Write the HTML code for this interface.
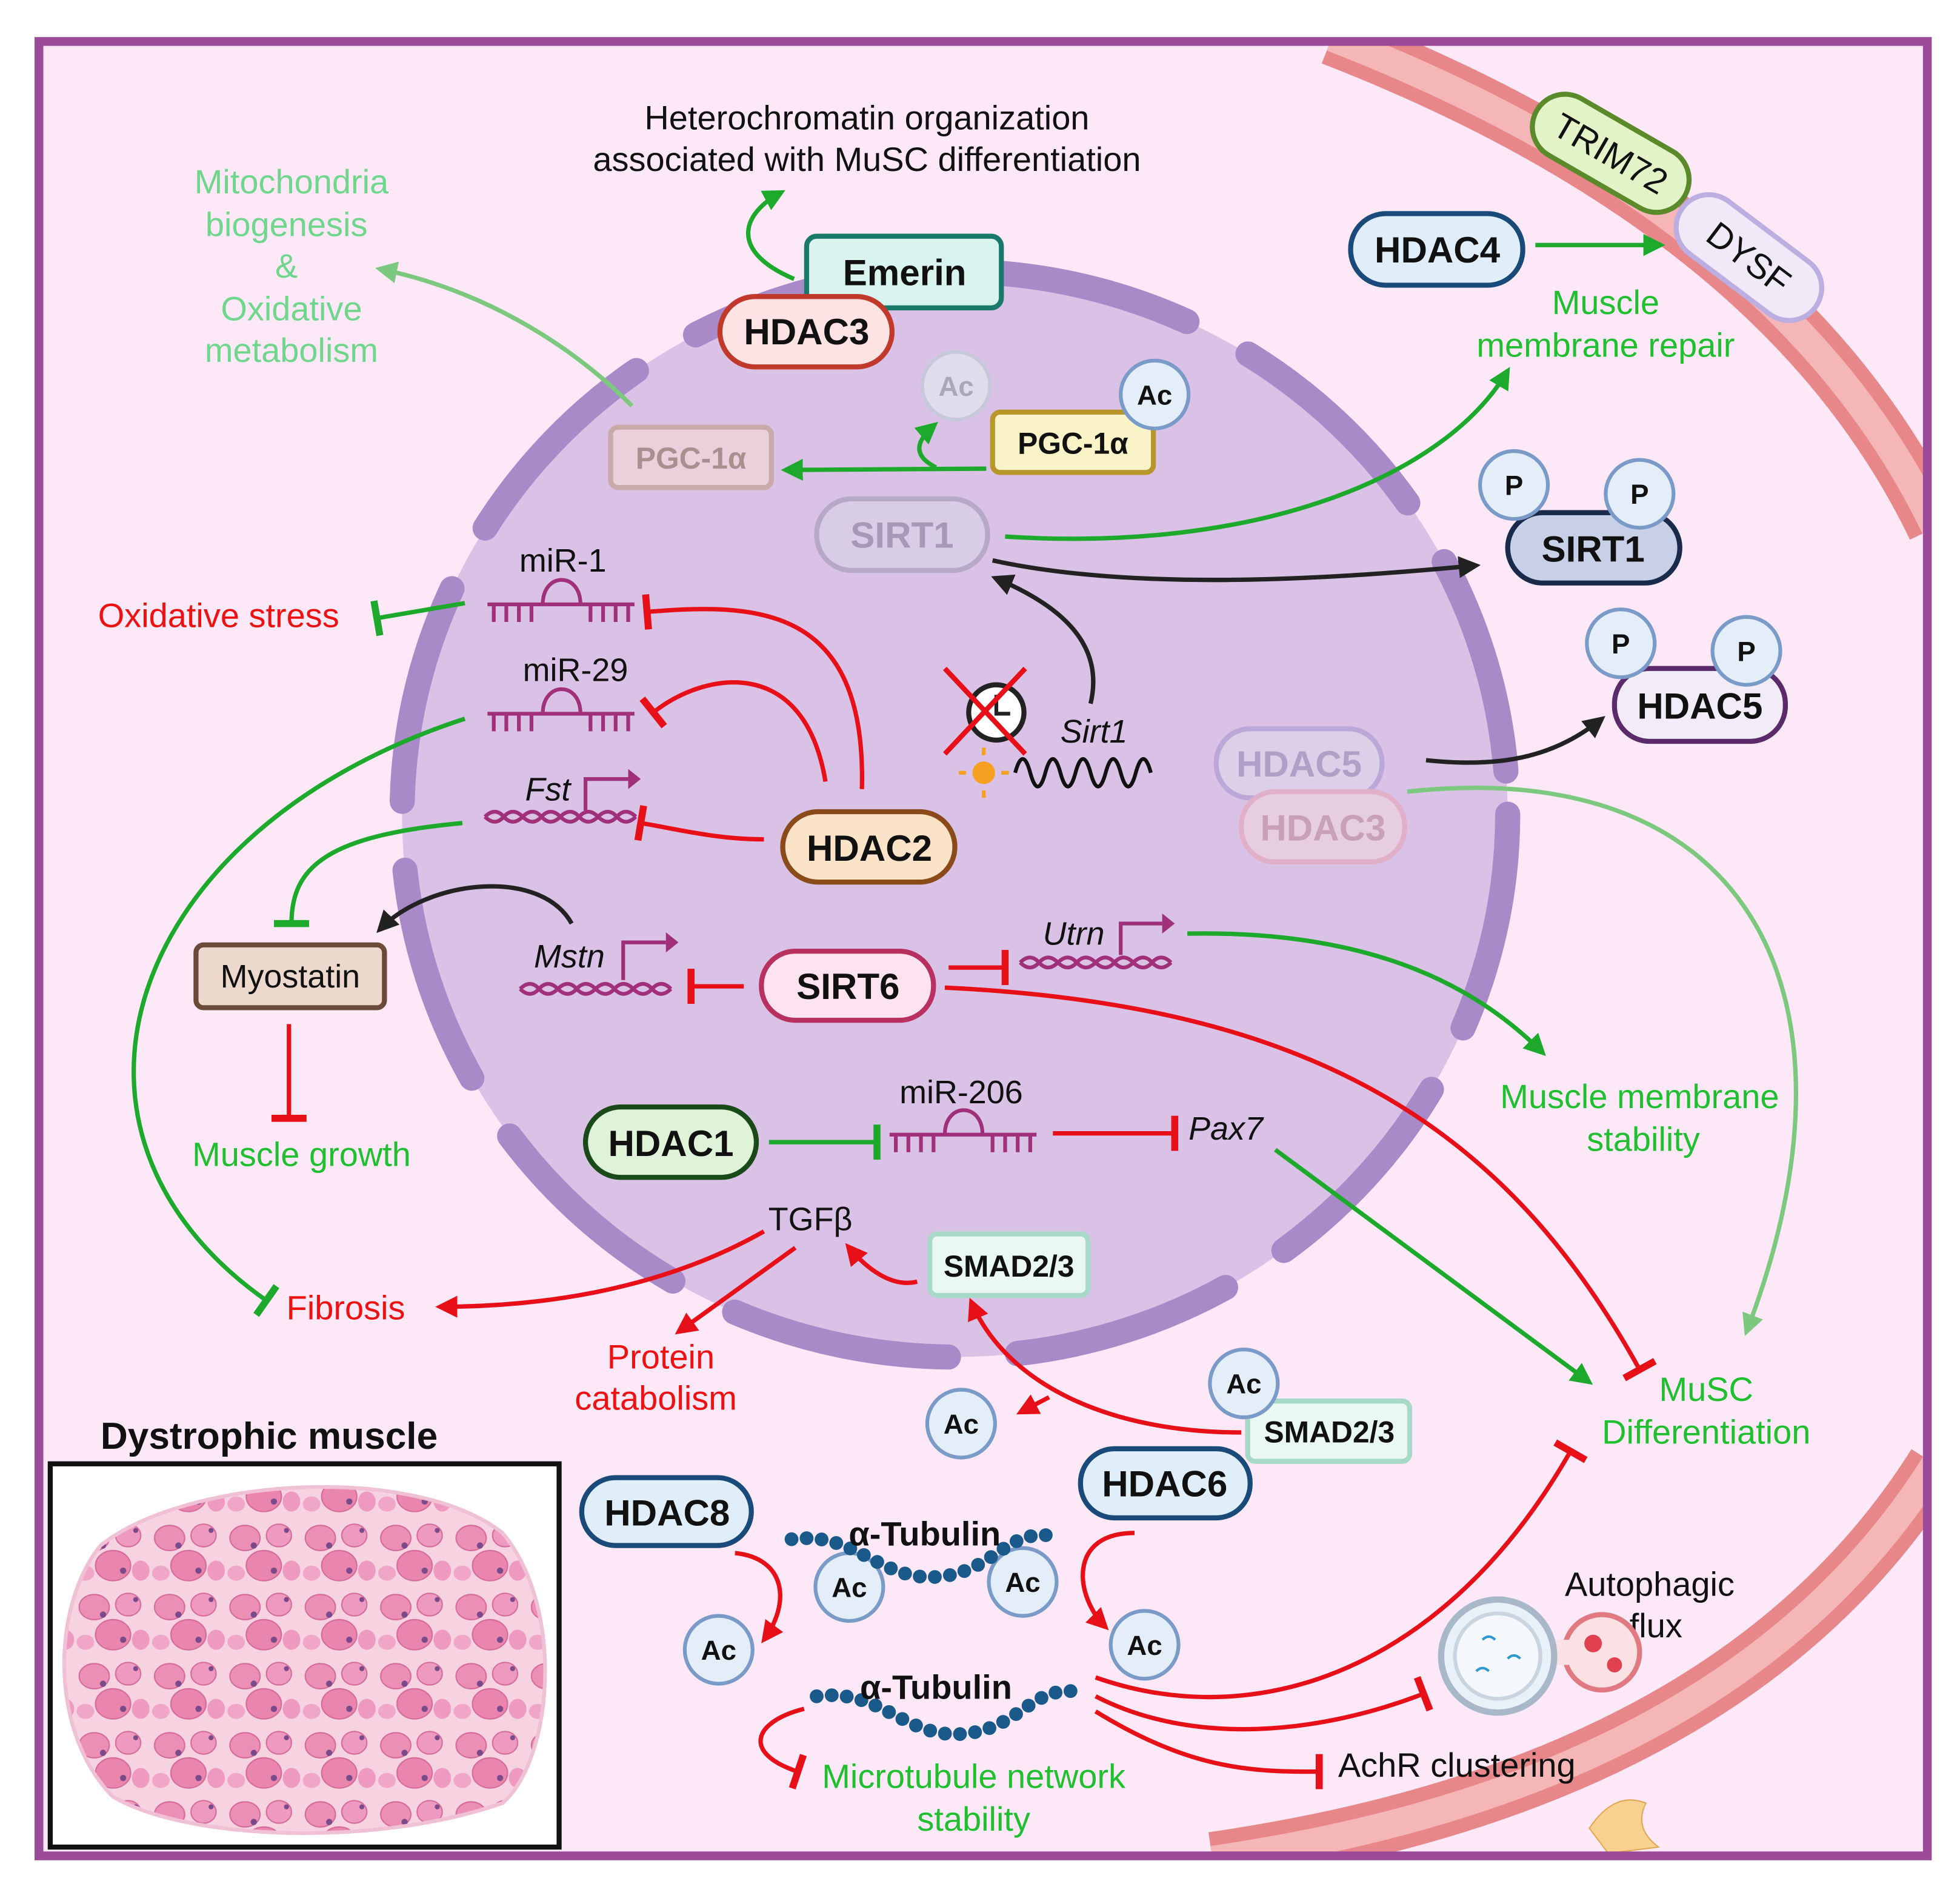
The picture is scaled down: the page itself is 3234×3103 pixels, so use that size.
<!DOCTYPE html>
<html><head><meta charset="utf-8"><style>
html,body{margin:0;padding:0;background:#fff}
svg{display:block}
text{font-family:"Liberation Sans",sans-serif}
</style></head><body>
<svg width="3234" height="3103" viewBox="0 0 1560 1497" preserveAspectRatio="none" xmlns="http://www.w3.org/2000/svg">
<defs>
<clipPath id="frm"><rect x="34" y="36" width="1497" height="1438"/></clipPath>
<marker id="aG" viewBox="0 0 10 10" refX="8" refY="5" markerWidth="5" markerHeight="5" orient="auto"><path d="M0,0L10,5L0,10z" fill="#1daa2c"/></marker>
<marker id="aL" viewBox="0 0 10 10" refX="8" refY="5" markerWidth="5" markerHeight="5" orient="auto"><path d="M0,0L10,5L0,10z" fill="#7cc87e"/></marker>
<marker id="aR" viewBox="0 0 10 10" refX="8" refY="5" markerWidth="5" markerHeight="5" orient="auto"><path d="M0,0L10,5L0,10z" fill="#e81018"/></marker>
<marker id="aK" viewBox="0 0 10 10" refX="8" refY="5" markerWidth="5" markerHeight="5" orient="auto"><path d="M0,0L10,5L0,10z" fill="#222"/></marker>
<marker id="bR" viewBox="0 0 4 20" refX="2" refY="10" markerWidth="2" markerHeight="8" orient="auto"><rect x="0" y="0" width="4" height="20" fill="#e81018"/></marker>
<marker id="bG" viewBox="0 0 4 20" refX="2" refY="10" markerWidth="2" markerHeight="8" orient="auto"><rect x="0" y="0" width="4" height="20" fill="#1daa2c"/></marker>
<pattern id="fib" width="60" height="55" patternUnits="userSpaceOnUse">
<rect width="60" height="55" fill="#f7d3e2"/>
<ellipse cx="15" cy="14" rx="12" ry="10" fill="#ec8fb5" stroke="#d46a98"/>
<ellipse cx="42" cy="12" rx="10" ry="9" fill="#ee9ac0" stroke="#d46a98"/>
<ellipse cx="30" cy="36" rx="14" ry="12" fill="#ea86ae" stroke="#d46a98"/>
<ellipse cx="8" cy="42" rx="7" ry="6" fill="#f0a6c6"/>
<ellipse cx="52" cy="40" rx="7" ry="8" fill="#ee9ac0"/>
<circle cx="22" cy="20" r="2.5" fill="#7a4a8a"/><circle cx="38" cy="40" r="2.5" fill="#7a4a8a"/><circle cx="48" cy="8" r="2" fill="#7a4a8a"/>
</pattern>
</defs>

<rect x="0" y="0" width="1560" height="1497" fill="#fff"/>
<rect x="31" y="33" width="1503" height="1444" fill="#fde8f8"/>

<!-- membrane band -->
<g clip-path="url(#frm)">
<path d="M1060,30 Q1420,170 1540,420" fill="none" stroke="#e8878a" stroke-width="44"/>
<path d="M1060,30 Q1420,170 1540,420" fill="none" stroke="#f4b6b6" stroke-width="22"/>
<path d="M1540,1165 Q1380,1420 965,1480" fill="none" stroke="#e8878a" stroke-width="44"/>
<path d="M1540,1165 Q1380,1420 965,1480" fill="none" stroke="#f4b6b6" stroke-width="22"/>
<path d="M1265,1455 q20,-30 45,-20 q-10,20 10,35 l-40,5z" fill="#f8d090" stroke="#e0a850"/>
</g>
<rect x="31" y="33" width="1503" height="1444" fill="none" stroke="#9b4a9a" stroke-width="7"/>

<!-- nucleus -->
<ellipse cx="760" cy="648" rx="440" ry="432" fill="#d9c2e5"/>
<ellipse cx="760" cy="648" rx="440" ry="432" fill="none" stroke="#a98ac8" stroke-width="20" stroke-linecap="round" stroke-dasharray="175 55"/>

<!-- top texts -->
<text x="690" y="103" font-size="27" text-anchor="middle" fill="#111">Heterochromatin organization</text>
<text x="690" y="136" font-size="27" text-anchor="middle" fill="#111">associated with MuSC differentiation</text>
<g font-size="27" fill="#6fd68c" text-anchor="middle">
<text x="232" y="154">Mitochondria</text><text x="228" y="188">biogenesis</text><text x="228" y="221">&amp;</text><text x="232" y="255">Oxidative</text><text x="232" y="288">metabolism</text></g>
<text x="1278" y="250" font-size="27" text-anchor="middle" fill="#1fbf2f">Muscle</text>
<text x="1278" y="284" font-size="27" text-anchor="middle" fill="#1fbf2f">membrane repair</text>

<!-- connectors -->
<g fill="none" stroke-width="3.5">
<path d="M632,222 C580,200 590,170 622,153" stroke="#1daa2c" marker-end="url(#aG)"/>
<path d="M503,323 C450,270 380,230 302,214" stroke="#7cc87e" marker-end="url(#aL)"/>
<path d="M785,373 L625,374" stroke="#1daa2c" marker-end="url(#aG)"/>
<path d="M745,372 C725,362 730,350 744,338" stroke="#1daa2c" marker-end="url(#aG)"/>
<path d="M1222,195 L1322,195" stroke="#1daa2c" marker-end="url(#aG)"/>
<path d="M800,427 C1000,440 1150,380 1200,295" stroke="#1daa2c" marker-end="url(#aG)"/>
<path d="M790,446 C900,470 1050,462 1175,450" stroke="#222" marker-end="url(#aK)"/>
<path d="M868,560 C880,510 840,480 792,460" stroke="#222" marker-end="url(#aK)"/>
<path d="M1135,605 C1200,612 1240,600 1275,572" stroke="#222" marker-end="url(#aK)"/>
<path d="M1120,630 C1400,600 1490,800 1390,1060" stroke="#7cc87e" marker-end="url(#aL)"/>
<path d="M370,480 L300,492" stroke="#1daa2c" marker-end="url(#bG)"/>
<path d="M686,628 C690,480 600,480 515,487" stroke="#e81018" marker-end="url(#bR)"/>
<path d="M657,622 C640,520 560,535 520,567" stroke="#e81018" marker-end="url(#bR)"/>
<path d="M608,668 C570,668 540,660 510,655" stroke="#e81018" marker-end="url(#bR)"/>
<path d="M370,572 C100,660 20,900 212,1035" stroke="#1daa2c" marker-end="url(#bG)"/>
<path d="M368,655 C260,665 232,690 232,735" stroke="#1daa2c" marker-end="url(#bG)"/>
<path d="M455,735 C430,690 340,700 302,740" stroke="#222" marker-end="url(#aK)"/>
<path d="M230,815 L230,890" stroke="#e81018" marker-end="url(#bR)"/>
<path d="M592,785 L550,785" stroke="#e81018" marker-end="url(#bR)"/>
<path d="M755,770 L800,770" stroke="#e81018" marker-end="url(#bR)"/>
<path d="M945,743 C1100,740 1180,790 1228,838" stroke="#1daa2c" marker-end="url(#aG)"/>
<path d="M752,786 C1050,800 1200,900 1305,1090" stroke="#e81018" marker-end="url(#bR)"/>
<path d="M612,909 L698,909" stroke="#1daa2c" marker-end="url(#bG)"/>
<path d="M838,902 L935,902" stroke="#e81018" marker-end="url(#bR)"/>
<path d="M1015,915 L1265,1100" stroke="#1daa2c" marker-end="url(#aG)"/>
<path d="M730,1020 C710,1025 690,1010 675,992" stroke="#e81018" marker-end="url(#aR)"/>
<path d="M608,980 C520,1030 420,1040 350,1040" stroke="#e81018" marker-end="url(#aR)"/>
<path d="M633,993 L540,1060" stroke="#e81018" marker-end="url(#aR)"/>
<path d="M988,1140 C880,1140 800,1100 773,1036" stroke="#e81018" marker-end="url(#aR)"/>
<path d="M835,1112 L812,1124" stroke="#e81018" marker-end="url(#aR)"/>
<path d="M585,1236 C625,1240 630,1275 608,1305" stroke="#e81018" marker-end="url(#aR)"/>
<path d="M903,1220 C850,1220 855,1270 880,1295" stroke="#e81018" marker-end="url(#aR)"/>
<path d="M872,1335 C1000,1380 1150,1330 1250,1155" stroke="#e81018" marker-end="url(#bR)"/>
<path d="M872,1350 C950,1390 1050,1380 1133,1348" stroke="#e81018" marker-end="url(#bR)"/>
<path d="M872,1362 C950,1410 1000,1410 1050,1410" stroke="#e81018" marker-end="url(#bR)"/>
<path d="M640,1360 C600,1370 590,1395 635,1410" stroke="#e81018" marker-end="url(#bR)"/>
</g>

<!-- rotated pills -->
<g transform="translate(1282,122) rotate(30)"><rect x="-68" y="-26" width="136" height="52" rx="26" fill="#e2f3c8" stroke="#5b8a2a" stroke-width="4"/><text x="0" y="10" font-size="28" text-anchor="middle" fill="#111">TRIM72</text></g>
<g transform="translate(1392,205) rotate(37)"><rect x="-66" y="-26" width="132" height="52" rx="26" fill="#efe9f8" stroke="#bcaee0" stroke-width="4"/><text x="0" y="10" font-size="28" text-anchor="middle" fill="#111">DYSF</text></g>

<!-- pills -->
<g stroke-width="4" font-weight="bold" text-anchor="middle">
<rect x="642" y="188" width="155" height="57" rx="8" fill="#d9f3ef" stroke="#1a7a6a"/><text x="720" y="227" font-size="29" fill="#111" stroke="none">Emerin</text>
<rect x="573" y="236" width="137" height="56" rx="28" fill="#fde3e3" stroke="#c0392b"/><text x="642" y="274" font-size="29" fill="#111" stroke="none">HDAC3</text>
<rect x="1075" y="170" width="137" height="57" rx="28" fill="#dfeef8" stroke="#1a4a7a"/><text x="1144" y="209" font-size="29" fill="#111" stroke="none">HDAC4</text>
<rect x="486" y="340" width="128" height="48" rx="6" fill="#e9d0da" stroke="#c9aaa8"/><text x="550" y="373" font-size="24" fill="#a89090" stroke="none">PGC-1α</text>
<rect x="790" y="328" width="128" height="48" rx="6" fill="#fbf3c8" stroke="#b8962a"/><text x="854" y="361" font-size="24" fill="#111" stroke="none">PGC-1α</text>
<rect x="650" y="397" width="136" height="57" rx="28" fill="#d8cde6" stroke="#b8a8c8"/><text x="718" y="436" font-size="29" fill="#a898b8" stroke="none">SIRT1</text>
<rect x="1200" y="408" width="137" height="56" rx="28" fill="#c8d0e8" stroke="#1a2a4a"/><text x="1268" y="447" font-size="29" fill="#111" stroke="none">SIRT1</text>
<rect x="1285" y="532" width="136" height="58" rx="28" fill="#f1ecf8" stroke="#5a2a6a"/><text x="1353" y="572" font-size="29" fill="#111" stroke="none">HDAC5</text>
<rect x="968" y="580" width="132" height="55" rx="27" fill="#dccfe8" stroke="#bca8d8"/><text x="1034" y="618" font-size="29" fill="#b0a0c8" stroke="none">HDAC5</text>
<rect x="988" y="630" width="130" height="56" rx="27" fill="#e6cde0" stroke="#e0b0c8"/><text x="1053" y="669" font-size="29" fill="#c8a0b8" stroke="none">HDAC3</text>
<rect x="623" y="646" width="137" height="56" rx="28" fill="#fbe3c8" stroke="#8a4a1a"/><text x="692" y="685" font-size="29" fill="#111" stroke="none">HDAC2</text>
<rect x="606" y="757" width="137" height="55" rx="27" fill="#fde3ef" stroke="#b83060"/><text x="675" y="795" font-size="29" fill="#111" stroke="none">SIRT6</text>
<rect x="466" y="881" width="136" height="56" rx="28" fill="#dff3d8" stroke="#1a4a1a"/><text x="534" y="920" font-size="29" fill="#111" stroke="none">HDAC1</text>
<rect x="740" y="982" width="126" height="49" rx="6" fill="#e9f8f2" stroke="#a8d8c8"/><text x="803" y="1016" font-size="24" fill="#111" stroke="none">SMAD2/3</text>
<rect x="993" y="1115" width="129" height="48" rx="6" fill="#e9f8f2" stroke="#a8d8c8"/><text x="1058" y="1148" font-size="24" fill="#111" stroke="none">SMAD2/3</text>
<rect x="156" y="752" width="150" height="50" rx="6" fill="#ecd8cc" stroke="#6a4a3a"/><text x="231" y="786" font-size="26" font-weight="normal" fill="#111" stroke="none">Myostatin</text>
<rect x="463" y="1176" width="135" height="54" rx="27" fill="#dfeef8" stroke="#1a4a7a"/><text x="531" y="1214" font-size="29" fill="#111" stroke="none">HDAC8</text>
<rect x="860" y="1153" width="135" height="55" rx="27" fill="#dfeef8" stroke="#1a4a7a"/><text x="927" y="1191" font-size="29" fill="#111" stroke="none">HDAC6</text>
</g>

<!-- Ac / P circles -->
<g stroke-width="3" font-weight="bold" font-size="22" text-anchor="middle">
<circle cx="761" cy="307" r="27" fill="#e0dcec" stroke="#c8c8dc"/><text x="761" y="315" fill="#a8a8b8">Ac</text>
<circle cx="919" cy="314" r="27" fill="#e4eef8" stroke="#7a9ac8"/><text x="919" y="322" fill="#111">Ac</text>
<circle cx="1205" cy="386" r="27" fill="#e4eef8" stroke="#7a9ac8"/><text x="1205" y="394" fill="#111">P</text>
<circle cx="1305" cy="393" r="27" fill="#e4eef8" stroke="#7a9ac8"/><text x="1305" y="401" fill="#111">P</text>
<circle cx="1290" cy="512" r="27" fill="#e4eef8" stroke="#7a9ac8"/><text x="1290" y="520" fill="#111">P</text>
<circle cx="1390" cy="518" r="27" fill="#e4eef8" stroke="#7a9ac8"/><text x="1390" y="526" fill="#111">P</text>
<circle cx="990" cy="1101" r="27" fill="#e4eef8" stroke="#7a9ac8"/><text x="990" y="1109" fill="#111">Ac</text>
<circle cx="765" cy="1133" r="27" fill="#e4eef8" stroke="#7a9ac8"/><text x="765" y="1141" fill="#111">Ac</text>
<circle cx="676" cy="1263" r="27" fill="#e4eef8" stroke="#7a9ac8"/><text x="676" y="1271" fill="#111">Ac</text>
<circle cx="814" cy="1259" r="27" fill="#e4eef8" stroke="#7a9ac8"/><text x="814" y="1267" fill="#111">Ac</text>
<circle cx="572" cy="1313" r="27" fill="#e4eef8" stroke="#7a9ac8"/><text x="572" y="1321" fill="#111">Ac</text>
<circle cx="911" cy="1309" r="27" fill="#e4eef8" stroke="#7a9ac8"/><text x="911" y="1317" fill="#111">Ac</text>
</g>

<!-- miRNAs -->
<g fill="none" stroke="#a0307a" stroke-width="3">
<path d="M388,481 H505 M393,481 v14 M403,481 v14 M413,481 v14 M423,481 v14 M470,481 v14 M480,481 v14 M490,481 v14 M500,481 v14 M432,481 C432,455 462,455 462,481"/>
<path d="M388,568 H505 M393,568 v14 M403,568 v14 M413,568 v14 M423,568 v14 M470,568 v14 M480,568 v14 M490,568 v14 M500,568 v14 M432,568 C432,542 462,542 462,568"/>
<path d="M708,903 H825 M713,903 v14 M723,903 v14 M733,903 v14 M743,903 v14 M790,903 v14 M800,903 v14 M810,903 v14 M820,903 v14 M752,903 C752,877 782,877 782,903"/>
<path d="M386,650 q8,-8 15,0 t15,0 t15,0 t15,0 t15,0 t15,0 t15,0 t15,0 M386,650 q8,8 15,0 t15,0 t15,0 t15,0 t15,0 t15,0 t15,0 t15,0"/>
<path d="M466,645 V620 H500" />
<path d="M414,787 q8,-8 15,0 t15,0 t15,0 t15,0 t15,0 t15,0 t15,0 t15,0 M414,787 q8,8 15,0 t15,0 t15,0 t15,0 t15,0 t15,0 t15,0 t15,0"/>
<path d="M496,780 V750 H530"/>
<path d="M812,766 q8,-8 15,0 t15,0 t15,0 t15,0 t15,0 t15,0 t15,0 t15,0 M812,766 q8,8 15,0 t15,0 t15,0 t15,0 t15,0 t15,0 t15,0 t15,0"/>
<path d="M892,760 V735 H925"/>
</g>
<path d="M500,612 L510,620 L500,628z M530,742 L540,750 L530,758z M925,727 L935,735 L925,743z" fill="#a0307a"/>
<text x="448" y="455" font-size="26" text-anchor="middle" fill="#111">miR-1</text>
<text x="458" y="542" font-size="26" text-anchor="middle" fill="#111">miR-29</text>
<text x="765" y="878" font-size="26" text-anchor="middle" fill="#111">miR-206</text>
<g font-style="italic" font-size="26" fill="#111">
<text x="418" y="637">Fst</text><text x="425" y="770">Mstn</text><text x="830" y="752">Utrn</text><text x="946" y="907">Pax7</text><text x="844" y="591">Sirt1</text></g>

<!-- clock, sun, moon, wave -->
<circle cx="793" cy="567" r="22" fill="#fff" stroke="#222" stroke-width="4"/>
<path d="M793,553 V568 H804" stroke="#222" stroke-width="3" fill="none"/>
<path d="M752,532 L816,600 M816,532 L752,600" stroke="#e81018" stroke-width="4"/>
<circle cx="783" cy="615" r="9" fill="#f5a020"/>
<path d="M769,615h-6M797,615h6M783,601v-6M783,629v6" stroke="#f5a020" stroke-width="3"/>
<path d="M808,615 q6,-22 12,0 t12,0 t12,0 t12,0 t12,0 t12,0 t12,0 t12,0 t12,0" fill="none" stroke="#111" stroke-width="3"/>
<path d="M942,600 a15,15 0 1 0 8,30 a12,12 0 1 1 -8,-30z" fill="#f0d040"/>

<!-- other text -->
<text x="78" y="499" font-size="27" fill="#ee1111">Oxidative stress</text>
<text x="240" y="928" font-size="27" text-anchor="middle" fill="#1fbf2f">Muscle growth</text>
<text x="1305" y="882" font-size="27" text-anchor="middle" fill="#1fbf2f">Muscle membrane</text>
<text x="1308" y="916" font-size="27" text-anchor="middle" fill="#1fbf2f">stability</text>
<text x="645" y="979" font-size="26" text-anchor="middle" fill="#111">TGFβ</text>
<text x="228" y="1050" font-size="27" fill="#ee1111">Fibrosis</text>
<text x="526" y="1089" font-size="27" text-anchor="middle" fill="#ee1111">Protein</text>
<text x="522" y="1122" font-size="27" text-anchor="middle" fill="#ee1111">catabolism</text>
<text x="1358" y="1115" font-size="27" text-anchor="middle" fill="#1fbf2f">MuSC</text>
<text x="1358" y="1149" font-size="27" text-anchor="middle" fill="#1fbf2f">Differentiation</text>
<text x="1313" y="1270" font-size="27" text-anchor="middle" fill="#111">Autophagic</text>
<text x="1318" y="1303" font-size="27" text-anchor="middle" fill="#111">flux</text>
<text x="1065" y="1414" font-size="27" fill="#111">AchR clustering</text>
<text x="775" y="1423" font-size="27" text-anchor="middle" fill="#1fbf2f">Microtubule network</text>
<text x="775" y="1457" font-size="27" text-anchor="middle" fill="#1fbf2f">stability</text>

<!-- tubulin beads -->
<path d="M630,1225 C680,1218 700,1258 745,1255 C790,1252 800,1218 835,1222" fill="none" stroke="#1a5a8a" stroke-width="11" stroke-linecap="round" stroke-dasharray="0 12"/>
<path d="M650,1350 C700,1343 720,1383 765,1380 C810,1377 820,1343 855,1346" fill="none" stroke="#1a5a8a" stroke-width="11" stroke-linecap="round" stroke-dasharray="0 12"/>
<text x="736" y="1230" font-size="27" font-weight="bold" text-anchor="middle" fill="#111">α-Tubulin</text>
<text x="745" y="1352" font-size="27" font-weight="bold" text-anchor="middle" fill="#111">α-Tubulin</text>

<!-- autophagy icon -->
<circle cx="1275" cy="1315" r="30" fill="#fbe0e4" stroke="#e07a80" stroke-width="4"/>
<rect x="1220" y="1305" width="30" height="20" fill="#fbe0e4"/>
<circle cx="1268" cy="1308" r="7" fill="#e04050"/><circle cx="1285" cy="1325" r="6" fill="#e04050"/>
<circle cx="1192" cy="1318" r="45" fill="#e8f0f8" stroke="#a8b8c8" stroke-width="5"/>
<circle cx="1192" cy="1318" r="34" fill="#f4f8fc" stroke="#c8d4e0" stroke-width="3"/>
<path d="M1180,1305 q5,-5 10,0 M1200,1320 q5,-5 10,0 M1175,1330 q5,-5 10,0" stroke="#2a9ad0" stroke-width="2" fill="none"/>

<!-- dystrophic muscle -->
<text x="80" y="1153" font-size="30" font-weight="bold" fill="#111">Dystrophic muscle</text>
<rect x="40" y="1165" width="405" height="305" fill="#fff" stroke="#111" stroke-width="4"/>
<path d="M80,1230 C150,1175 330,1165 400,1220 C450,1280 440,1400 400,1435 C300,1470 150,1465 90,1430 C40,1380 40,1280 80,1230z" fill="url(#fib)" stroke="#f0c0d4" stroke-width="3"/>
</svg>
</body></html>
